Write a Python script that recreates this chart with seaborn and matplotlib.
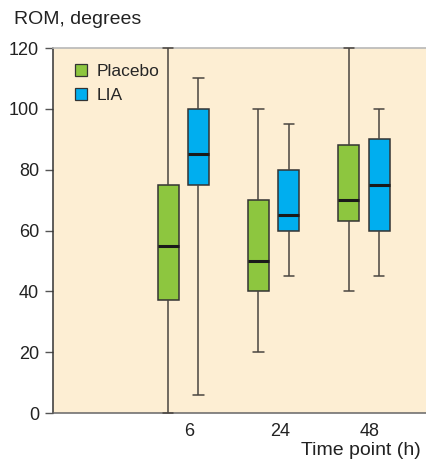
import numpy as np
import pandas as pd
import matplotlib
matplotlib.use("Agg")
import matplotlib.pyplot as plt
import matplotlib.transforms as mtransforms
from matplotlib.lines import Line2D
import seaborn as sns

# box summaries: whisker low, q1, median, q3, whisker high
times = ["6", "24", "48"]
groups = ["Placebo", "LIA"]
colors = ["#8dc63f", "#00aeef"]

placebo_low = [0, 20, 40]
placebo_q1 = [37, 40, 63]
placebo_med = [55, 50, 70]
placebo_q3 = [75, 70, 88]
placebo_high = [120, 100, 120]

lia_low = [6, 45, 45]
lia_q1 = [75, 60, 60]
lia_med = [85, 65, 75]
lia_q3 = [100, 80, 90]
lia_high = [110, 95, 100]

yticks = [0, 20, 40, 60, 80, 100, 120]

# five points per box -> linear percentiles hit q1/median/q3 exactly
rows = []
for g, cols in zip(groups, [(placebo_low, placebo_q1, placebo_med, placebo_q3, placebo_high),
                            (lia_low, lia_q1, lia_med, lia_q3, lia_high)]):
    for i, t in enumerate(times):
        for c in cols:
            rows.append({"time": t, "group": g, "rom": c[i]})
df = pd.DataFrame(rows)

sns.set_style("ticks")
plt.rcParams["font.family"] = ["Liberation Sans", "DejaVu Sans"]

fig = plt.figure(figsize=(4.26, 4.59), dpi=100)
ax = fig.add_axes([0.1244, 0.1002, 0.8756, 0.7952])
ax.set_facecolor("#fdeed3")

sns.boxplot(
    data=df, x="time", y="rom", hue="group", order=times, hue_order=groups,
    palette=colors, saturation=1, whis=(0, 100), width=0.67, gap=0.31, fliersize=0,
    linecolor="#4a4540", linewidth=1.1, legend=False, ax=ax,
    boxprops={"edgecolor": "#333333"},
    medianprops={"color": "#1a1a1a", "linewidth": 2.2},
)
# caps sitting on 0 and 120 should draw over the spines
for line in ax.lines:
    line.set_clip_on(False)
    line.set_zorder(3)

ax.set_xlim(-1.44, 2.685)
ax.set_ylim(0, 120)
ax.set_yticks(yticks)
ax.set_xlabel("")
ax.set_ylabel("")
ax.tick_params(axis="x", length=0, labelsize=13, colors="#222222", pad=7)
ax.tick_params(axis="y", length=6, width=1, color="#555555", labelsize=13,
               labelcolor="#222222", pad=4)
offset = mtransforms.ScaledTranslation(6 / 100, 0, fig.dpi_scale_trans)
for lab in ax.get_xticklabels():
    lab.set_transform(lab.get_transform() + offset)

ax.spines["left"].set_color("#333333")
ax.spines["left"].set_linewidth(1.1)
ax.spines["bottom"].set_color("#666666")
ax.spines["bottom"].set_linewidth(1.1)
ax.spines["top"].set_color("#b8b8b8")
ax.spines["top"].set_linewidth(1.2)
ax.spines["right"].set_visible(False)

handles = [Line2D([], [], marker="s", linestyle="", markersize=9,
                  markerfacecolor=c, markeredgecolor="#333333", markeredgewidth=0.9)
           for c in colors]
ax.legend(handles, groups, loc="upper left", bbox_to_anchor=(0.005, 1.0),
          frameon=False, fontsize=12.5, handletextpad=0.3, labelspacing=0.5,
          handlelength=1.2)

fig.text(14 / 426, 1 - 19 / 459, "ROM, degrees", fontsize=14, color="#222222",
         ha="left", va="center")
fig.text(421 / 426, 1 - 455 / 459, "Time point (h)", fontsize=14, color="#222222",
         ha="right", va="baseline")

fig.savefig("out.png", dpi=100)
